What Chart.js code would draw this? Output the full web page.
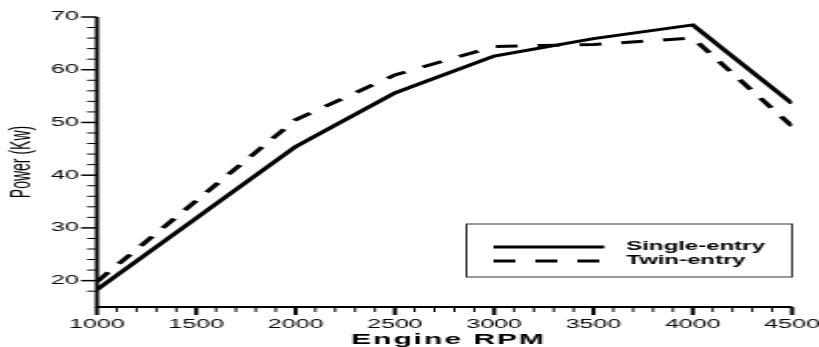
<!DOCTYPE html>
<html>
<head>
<meta charset="utf-8">
<script src="https://cdn.jsdelivr.net/npm/chart.js@4"></script>
<style>
  html, body { margin: 0; padding: 0; background: #fff; }
  #myChart { display: block; }
</style>
</head>
<body>
<!-- the source picture is stretched ~2x horizontally, so draw at half width and stretch with css -->
<canvas id="myChart" width="410" height="347" style="width:819px;height:347px"></canvas>
<script>
const rpm = [1000, 2000, 2500, 3000, 3500, 4000, 4500];
const singleEntry = [18.3, 45.4, 55.6, 62.6, 65.9, 68.5, 53.6];
const twinEntry = [19.8, 50.5, 59.0, 64.4, 64.8, 66.0, 49.3];
const seriesNames = ['Single-entry', 'Twin-entry'];
const xTickLabels = [1000, 1500, 2000, 2500, 3000, 3500, 4000, 4500];
const yTickLabels = [20, 30, 40, 50, 60, 70];
const xTitle = 'Engine RPM';
const yTitle = 'Power (Kw)';

const FONT = "'Liberation Sans', Arial, sans-serif";
Chart.defaults.color = '#000';
Chart.defaults.font.family = FONT;

function points(ys){
    return rpm.map((r, i) => ({ x: r, y: ys[i] }));
}

// axis lines + major/minor ticks + x title
const axisTicks = {
    id: 'axisTicks',
    afterDraw(chart){
        const ctx = chart.ctx;
        const { left, right, top, bottom } = chart.chartArea;
        const xs = chart.scales.x, ys = chart.scales.y;
        ctx.save();
        ctx.strokeStyle = '#000';
        xs.ticks.forEach(t => {
            const major = xTickLabels.includes(t.value);
            const px = xs.getPixelForValue(t.value);
            ctx.lineWidth = major ? 2 : 1;
            ctx.beginPath();
            ctx.moveTo(px, bottom);
            ctx.lineTo(px, bottom + (major ? 8 : 5));
            ctx.stroke();
        });
        ys.ticks.forEach(t => {
            if (t.value % 2 !== 0) return;
            const major = yTickLabels.includes(t.value);
            const py = ys.getPixelForValue(t.value);
            ctx.lineWidth = major ? 1.5 : 1;
            ctx.beginPath();
            ctx.moveTo(left, py);
            ctx.lineTo(left - (major ? 8 : 5), py);
            ctx.stroke();
        });
        ctx.lineWidth = 2;
        ctx.beginPath();
        ctx.moveTo(left, top);
        ctx.lineTo(left, bottom);
        ctx.lineTo(right, bottom);
        ctx.stroke();

        ctx.fillStyle = '#000';
        ctx.font = "bold 15px " + FONT;
        ctx.letterSpacing = '1px';
        ctx.textAlign = 'center';
        ctx.textBaseline = 'alphabetic';
        ctx.fillText(xTitle, (left + right) / 2 + 2, 344);
        ctx.restore();
    }
};

// boxed legend inside the plot, lower right
const boxLegend = {
    id: 'boxLegend',
    afterDatasetsDraw(chart){
        const ctx = chart.ctx;
        const { right } = chart.chartArea;
        const bx = 233.5, by = 224, bw = right - 233.5, bh = 53;
        ctx.save();
        ctx.fillStyle = '#fff';
        ctx.fillRect(bx, by, bw, bh);
        ctx.strokeStyle = '#333';
        ctx.lineWidth = 1;
        ctx.strokeRect(bx, by, bw, bh);
        chart.data.datasets.forEach((ds, i) => {
            const ly = 247 + i * 14;
            ctx.strokeStyle = ds.borderColor;
            ctx.lineWidth = 3;
            ctx.setLineDash(ds.borderDash || []);
            ctx.beginPath();
            ctx.moveTo(247, ly);
            ctx.lineTo(302.5, ly);
            ctx.stroke();
            ctx.setLineDash([]);
            ctx.fillStyle = '#000';
            ctx.font = "bold 12px " + FONT;
            ctx.textBaseline = 'middle';
            ctx.fillText(ds.label, 313.5, ly);
        });
        ctx.restore();
    }
};

const ctx = document.getElementById('myChart');
const myChart = new Chart(ctx, {
    type: 'line',
    data: {
        datasets: [{
            label: seriesNames[0],
            data: points(singleEntry),
            borderColor: '#000',
            borderWidth: 3,
            pointRadius: 0,
            tension: 0,
            borderJoinStyle: 'miter'
        }, {
            label: seriesNames[1],
            data: points(twinEntry),
            borderColor: '#000',
            borderWidth: 3,
            borderDash: [11, 10],
            pointRadius: 0,
            tension: 0,
            borderJoinStyle: 'miter'
        }]
    },
    options: {
        responsive: false,
        devicePixelRatio: 1,
        animation: false,
        layout: { padding: { top: 17, right: 13.5, bottom: 0, left: 0 } },
        plugins: {
            legend: { display: false },
            tooltip: { enabled: false }
        },
        scales: {
            x: {
                type: 'linear',
                min: 1000,
                max: 4500,
                grid: { display: false, drawTicks: false },
                border: { display: false },
                ticks: {
                    stepSize: 100,
                    autoSkip: false,
                    maxRotation: 0,
                    padding: 10,
                    font: { size: 12.5 },
                    callback: v => xTickLabels.includes(v) ? String(v) : ''
                },
                afterFit: s => {
                    s.height = 40;
                    s.paddingLeft = 0;
                    s.paddingRight = 0;
                }
            },
            y: {
                min: 15,
                max: 70,
                grid: { display: false, drawTicks: false },
                border: { display: false },
                ticks: {
                    stepSize: 2,
                    autoSkip: false,
                    padding: 9,
                    font: { size: 12.5 },
                    callback: v => yTickLabels.includes(v) ? String(v) : ''
                },
                title: {
                    display: true,
                    text: yTitle,
                    font: { size: 14 },
                    padding: { top: 3, bottom: 0 }
                },
                afterFit: s => {
                    s.width = 48.5;
                    s.paddingTop = 0;
                    s.paddingBottom = 0;
                }
            }
        }
    },
    plugins: [axisTicks, boxLegend]
});
</script>
</body>
</html>
